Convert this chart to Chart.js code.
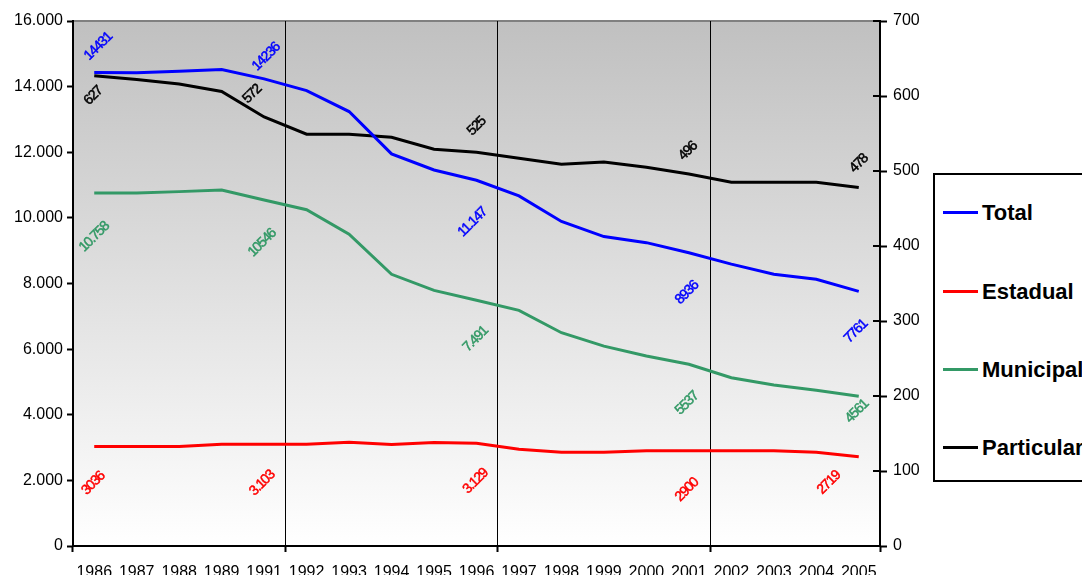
<!DOCTYPE html>
<html>
<head>
<meta charset="utf-8">
<script src="https://cdn.jsdelivr.net/npm/chart.js@4.4.1/dist/chart.umd.min.js"></script>
<style>
  html, body { margin: 0; padding: 0; background: #fff; overflow: hidden; }
  #wrap { position: relative; width: 1082px; height: 575px; }
  #legend { position: absolute; left: 933px; top: 173px; width: 170px; height: 309px; border: 2px solid #000; border-right: none; background: #fff; box-sizing: border-box; font-family: "Liberation Sans", Arial, sans-serif; font-weight: bold; font-size: 22px; color: #000; }
  #legend .item { position: absolute; left: 8px; height: 26px; line-height: 26px; white-space: nowrap; }
  #legend .swatch { display: inline-block; width: 35px; height: 3px; vertical-align: middle; margin-right: 4px; position: relative; top: -2px; }
</style>
</head>
<body>
<div id="wrap">
  <canvas id="chart" width="1082" height="575"></canvas>
  <div id="legend"></div>
</div>
<script>
var years = ['1986','1987','1988','1989','1991','1992','1993','1994','1995','1996','1997','1998','1999','2000','2001','2002','2003','2004','2005'];
var total      = [14431, 14420, 14470, 14520, 14236, 13880, 13240, 11950, 11460, 11147, 10670, 9890, 9430, 9245, 8936, 8590, 8280, 8130, 7761];
var estadual   = [3036, 3036, 3036, 3100, 3103, 3103, 3160, 3090, 3155, 3129, 2950, 2860, 2860, 2900, 2900, 2900, 2900, 2860, 2719];
var municipal  = [10758, 10758, 10800, 10850, 10546, 10250, 9500, 8280, 7790, 7491, 7180, 6500, 6090, 5790, 5537, 5130, 4906, 4745, 4561];
var particular = [627, 622, 616, 606, 572, 549, 549, 545, 529, 525, 517, 509, 512, 505, 496, 485, 485, 485, 478];

// which points carry a value label, and the text shown there
var labelIdx = [0, 4, 9, 14, 18];
var totalLabels      = ['14431', '14236', '11.147', '8936', '7761'];
var estadualLabels   = ['3036', '3.103', '3.129', '2900', '2719'];
var municipalLabels  = ['10.758', '10546', '7.491', '5537', '4561'];
var particularLabels = ['627', '572', '525', '496', '478'];

var leftMax = 16000, leftStep = 2000;
var rightMax = 700, rightStep = 100;

var seriesNames = ['Total', 'Estadual', 'Municipal', 'Particular'];
var colors = ['#0000ff', '#ff0000', '#339966', '#000000'];

function fmtThousands(v) {
  return String(v).replace(/\B(?=(\d{3})+(?!\d))/g, '.');
}

// label centre offsets from the point, per series
var labelOffsets = [
  [[4, -26], [2, -22], [-4, 42], [-2, 40], [-3, 40]],
  [[-1, 37], [-2, 39], [-1, 38], [-2, 39], [-30, 26]],
  [[0, 44], [-2, 43], [-1, 39], [-2, 39], [-2, 15]],
  [[-1, 20], [-12, -23], [0, -26], [-1, -23], [0, -24]]
];

var plotBg = {
  id: 'plotBg',
  beforeDraw: function(chart) {
    var a = chart.chartArea, ctx = chart.ctx;
    var g = ctx.createLinearGradient(0, a.top, 0, a.bottom);
    g.addColorStop(0, '#c0c0c0');
    g.addColorStop(1, '#ffffff');
    ctx.save();
    ctx.fillStyle = g;
    ctx.fillRect(a.left, a.top, a.right - a.left, a.bottom - a.top);
    ctx.strokeStyle = '#808080';
    ctx.lineWidth = 2;
    ctx.beginPath();
    ctx.moveTo(a.left, a.top);
    ctx.lineTo(a.right, a.top);
    ctx.stroke();
    ctx.restore();
  },
  afterDraw: function(chart) {
    // short inner half of the right axis tick marks
    var s = chart.scales.y1, ctx = chart.ctx;
    ctx.save();
    ctx.strokeStyle = '#000';
    ctx.lineWidth = 2;
    s.ticks.forEach(function(t) {
      var y = s.getPixelForValue(t.value);
      ctx.beginPath();
      ctx.moveTo(s.left - 7, y);
      ctx.lineTo(s.left, y);
      ctx.stroke();
    });
    ctx.restore();
  }
};

var valueLabels = {
  id: 'valueLabels',
  afterDatasetsDraw: function(chart) {
    var ctx = chart.ctx;
    ctx.save();
    ctx.font = '14px "Liberation Sans", Arial, sans-serif';
    ctx.letterSpacing = '-1.2px';
    ctx.textAlign = 'center';
    ctx.textBaseline = 'middle';
    ctx.lineWidth = 0.5;
    chart.data.datasets.forEach(function(ds, di) {
      var meta = chart.getDatasetMeta(di);
      ds.valueLabels.forEach(function(txt, k) {
        var pt = meta.data[labelIdx[k]];
        var off = labelOffsets[di][k];
        ctx.save();
        ctx.translate(pt.x + off[0], pt.y + off[1]);
        ctx.rotate(-Math.PI / 4);
        ctx.fillStyle = ds.borderColor;
        ctx.strokeStyle = ds.borderColor;
        ctx.fillText(txt, 0, 0);
        ctx.strokeText(txt, 0, 0);
        ctx.restore();
      });
    });
    ctx.restore();
  }
};

var allLabels = [totalLabels, estadualLabels, municipalLabels, particularLabels];
var allData = [total, estadual, municipal, particular];

var datasets = seriesNames.map(function(name, i) {
  return {
    label: name,
    data: allData[i],
    valueLabels: allLabels[i],
    borderColor: colors[i],
    backgroundColor: colors[i],
    borderWidth: 3,
    pointRadius: 0,
    tension: 0,
    fill: false,
    yAxisID: i === 3 ? 'y1' : 'y'
  };
});

function gridColor(c) {
  return (c.index !== undefined && c.index > 0 && c.index % 5 === 0) ? '#000' : 'rgba(0,0,0,0)';
}
function xTickColor(c) {
  return (c.index === undefined || c.index % 5 === 0) ? '#000' : 'rgba(0,0,0,0)';
}

var tickFont = { family: '"Liberation Sans", Arial, sans-serif', size: 16 };

new Chart(document.getElementById('chart'), {
  type: 'line',
  data: { labels: years, datasets: datasets },
  options: {
    responsive: false,
    animation: false,
    devicePixelRatio: 1,
    layout: { padding: { top: 21, left: 0, right: 0, bottom: 0 } },
    plugins: { legend: { display: false }, tooltip: { enabled: false } },
    scales: {
      x: {
        offset: true,
        grid: { offset: true, color: gridColor, tickColor: xTickColor, lineWidth: 1, tickLength: 6, tickWidth: 2 },
        border: { color: '#000', width: 2 },
        ticks: { autoSkip: false, maxRotation: 0, minRotation: 0, padding: 11, color: '#000', font: { family: '"Liberation Sans", Arial, sans-serif', size: 16 } },
        afterFit: function(s) { s.height = 29; }
      },
      y: {
        position: 'left',
        min: 0, max: leftMax,
        grid: { drawOnChartArea: false, tickLength: 6, tickWidth: 2, tickColor: '#000' },
        border: { color: '#000', width: 2 },
        ticks: { stepSize: leftStep, padding: 4, color: '#000', font: tickFont, callback: function(v) { return fmtThousands(v); } },
        afterFit: function(s) { s.width = 73; }
      },
      y1: {
        position: 'right',
        min: 0, max: rightMax,
        grid: { drawOnChartArea: false, tickLength: 7, tickWidth: 2, tickColor: '#000' },
        border: { color: '#000', width: 2 },
        ticks: { stepSize: rightStep, padding: 6, color: '#000', font: tickFont },
        afterFit: function(s) { s.width = 202; }
      }
    }
  },
  plugins: [plotBg, valueLabels]
});

// legend box on the right, partly cut by the window edge
var legend = document.getElementById('legend');
var legendTops = [25, 104, 182, 260];
seriesNames.forEach(function(name, i) {
  var it = document.createElement('div');
  it.className = 'item';
  it.style.top = legendTops[i] + 'px';
  it.innerHTML = '<span class="swatch" style="background:' + colors[i] + '"></span>' + name;
  legend.appendChild(it);
});
</script>
</body>
</html>
